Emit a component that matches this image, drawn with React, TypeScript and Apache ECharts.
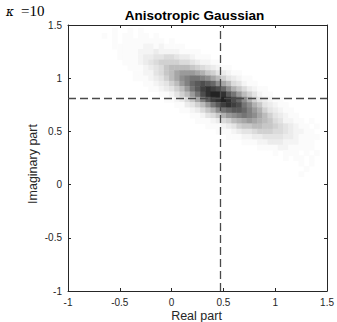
import React, { useEffect, useRef } from "react";
import * as echarts from "echarts";

// ---- axis ticks ----
const xTicks = [-1, -0.5, 0, 0.5, 1, 1.5];
const yTicks = [-1, -0.5, 0, 0.5, 1, 1.5];

// ---- texts ----
const titleText = "Anisotropic Gaussian";
const xName = "Real part";
const yName = "Imaginary part";
const kappaSymbol = "κ";
const kappaValue = "=10";

// ---- mean (dashed cross) ----
const meanReal = 0.475;
const meanImag = 0.815;

// ---- 2-D histogram: bin centres x = -0.70 .. 1.45 (step 0.05), counts 0..20 ----
const binX0 = -0.7;
const binStep = 0.05;
const rowYs = [1.45, 1.4, 1.35, 1.3, 1.25, 1.2, 1.15, 1.1, 1.05, 1.0, 0.95, 0.9, 0.85, 0.8, 0.75, 0.7, 0.65, 0.6, 0.55, 0.5, 0.45, 0.4, 0.35, 0.3, 0.25, 0.2, 0.15, 0.1];

const r145 = [0,0,0,1,0,0,1,0,1,0, 0,0,0,0,0,0,0,0,0,0, 0,0,0,0,0,0,0,0,0,0, 0,0,0,0,0,0,0,0,0,0, 0,0,0,0];
const r140 = [0,1,0,1,0,1,1,0,1,1, 0,1,0,0,0,0,0,0,0,0, 0,0,0,0,0,0,0,0,0,0, 0,0,0,0,0,0,0,0,0,0, 0,0,0,0];
const r135 = [0,0,0,1,0,1,1,1,1,1, 1,1,1,0,1,0,0,0,0,0, 0,0,0,0,0,0,0,0,0,0, 0,0,0,0,0,0,0,0,0,0, 0,0,0,0];
const r130 = [0,0,0,1,1,1,1,1,1,2, 2,1,2,1,1,1,1,0,0,0, 0,0,0,0,0,0,0,0,0,0, 0,0,0,0,0,0,0,0,0,0, 0,0,0,0];
const r125 = [0,0,0,0,1,1,1,1,2,2, 2,3,2,2,2,2,1,1,1,1, 0,0,0,0,0,0,0,0,0,0, 0,0,0,0,0,0,0,0,0,0, 0,0,0,0];
const r120 = [0,0,0,0,1,1,1,1,2,3, 3,4,4,5,5,4,3,3,2,1, 1,1,0,0,0,0,0,0,0,0, 0,0,0,0,0,0,0,0,0,0, 0,0,0,0];
const r115 = [0,0,0,0,0,1,1,1,2,3, 4,5,6,6,6,6,5,5,4,3, 2,2,1,1,0,0,0,0,0,0, 0,0,0,0,0,0,0,0,0,0, 0,0,0,0];
const r110 = [0,0,0,0,0,0,1,1,1,2, 3,4,5,7,8,8,8,8,7,6, 5,4,3,2,1,1,0,0,0,0, 0,0,0,0,0,0,0,0,0,0, 0,0,0,0];
const r105 = [0,0,0,0,0,0,0,1,1,2, 2,4,5,7,8,10,11,11,11,10, 9,7,6,4,3,2,1,1,0,0, 0,0,0,0,0,0,0,0,0,0, 0,0,0,0];
const r100 = [0,0,0,0,0,0,0,1,1,1, 2,3,4,6,8,10,12,13,14,14, 13,12,10,8,6,4,3,2,1,1, 0,0,0,0,0,0,0,0,0,0, 0,0,0,0];
const r095 = [0,0,0,0,0,0,0,0,0,1, 1,2,3,4,6,8,11,13,15,16, 17,16,15,12,10,8,5,4,2,1, 1,0,0,0,0,0,0,0,0,0, 0,0,0,0];
const r090 = [0,0,0,0,0,0,0,0,0,0, 1,1,2,3,4,6,8,11,14,16, 18,19,18,17,15,12,9,7,5,3, 2,1,1,0,0,0,0,0,0,0, 0,0,0,0];
const r085 = [0,0,0,0,0,0,0,0,0,0, 0,0,1,1,2,4,6,8,11,14, 17,19,20,20,19,16,14,11,8,6, 4,2,1,1,0,0,0,0,0,0, 0,0,0,0];
const r080 = [0,0,0,0,0,0,0,0,0,0, 0,0,0,1,1,2,3,5,7,10, 13,16,18,19,20,19,17,15,12,9, 6,4,3,2,1,1,0,0,0,0, 0,0,0,0];
const r075 = [0,0,0,0,0,0,0,0,0,0, 0,0,0,0,0,1,1,3,4,6, 8,11,14,16,18,19,18,17,14,12, 9,7,4,3,2,1,1,0,0,0, 0,0,0,0];
const r070 = [0,0,0,0,0,0,0,0,0,0, 0,0,0,0,0,0,1,1,2,3, 5,7,9,12,14,15,16,16,15,13, 11,9,6,4,3,2,1,1,0,0, 0,0,0,0];
const r065 = [0,0,0,0,0,0,0,0,0,0, 0,0,0,0,0,0,0,0,1,1, 2,4,5,7,9,11,12,13,14,13, 12,10,8,6,4,3,2,1,1,0, 0,0,0,0];
const r060 = [0,0,0,0,0,0,0,0,0,0, 0,0,0,0,0,0,0,0,0,1, 1,1,2,3,5,6,8,9,10,11, 10,9,8,7,5,4,2,2,1,1, 0,1,0,0];
const r055 = [0,0,0,0,0,0,0,0,0,0, 0,0,0,0,0,0,0,0,0,0, 0,1,1,1,2,3,4,6,7,7, 8,8,7,7,6,5,4,3,2,1, 1,0,1,0];
const r050 = [0,0,0,0,0,0,0,0,0,0, 0,0,0,0,0,0,0,0,0,0, 0,0,0,1,1,1,2,3,4,4, 5,6,6,6,5,5,4,3,2,2, 1,1,0,0];
const r045 = [0,0,0,0,0,0,0,0,0,0, 0,0,0,0,0,0,0,0,0,0, 0,0,0,0,0,1,1,1,2,2, 3,3,4,4,4,4,3,3,2,1, 1,1,1,0];
const r040 = [0,0,0,0,0,0,0,0,0,0, 0,0,0,0,0,0,0,0,0,0, 0,0,0,0,0,0,0,0,1,1, 1,2,2,3,3,3,2,2,2,1, 1,1,0,0];
const r035 = [0,0,0,0,0,0,0,0,0,0, 0,0,0,0,0,0,0,0,0,0, 0,0,0,0,0,0,0,0,0,0, 0,1,1,1,1,2,2,1,1,1, 1,1,0,0];
const r030 = [0,0,0,0,0,0,0,0,0,0, 0,0,0,0,0,0,0,0,0,0, 0,0,0,0,0,0,0,0,0,0, 0,0,0,0,1,0,1,1,1,0, 1,0,1,0];
const r025 = [0,0,0,0,0,0,0,0,0,0, 0,0,0,0,0,0,0,0,0,0, 0,0,0,0,0,0,0,0,0,0, 0,0,0,0,0,0,1,0,1,1, 0,1,0,0];
const r020 = [0,0,0,0,0,0,0,0,0,0, 0,0,0,0,0,0,0,0,0,0, 0,0,0,0,0,0,0,0,0,0, 0,0,0,0,0,0,0,0,0,1, 0,1,0,0];
const r015 = [0,0,0,0,0,0,0,0,0,0, 0,0,0,0,0,0,0,0,0,0, 0,0,0,0,0,0,0,0,0,0, 0,0,0,0,0,0,0,0,0,0, 1,0,0,0];
const r010 = [0,0,0,0,0,0,0,0,0,0, 0,0,0,0,0,0,0,0,0,0, 0,0,0,0,0,0,0,0,0,0, 0,0,0,0,0,0,0,0,0,1, 0,0,0,0];

const rows = [r145, r140, r135, r130, r125, r120, r115, r110, r105, r100, r095, r090, r085, r080, r075, r070, r065, r060, r055, r050, r045, r040, r035, r030, r025, r020, r015, r010];
const maxCount = 20;

// build [x, y, count] triples for the custom series
const cells: number[][] = [];
rows.forEach((row, j) => {
  row.forEach((v, i) => {
    if (v > 0) cells.push([+(binX0 + i * binStep).toFixed(3), rowYs[j], v]);
  });
});

const axisColor = "#262626";
const sans = "Liberation Sans";

function grayOf(v: number) {
  const t = Math.pow(Math.min(1, v / maxCount), 1.3);
  const g = Math.round(255 - 220 * t);
  return `rgb(${g},${g},${g})`;
}

function buildOption() {
  const half = binStep / 2;
  const commonX = {
    type: "value" as const,
    min: -1,
    max: 1.5,
    interval: 0.5,
    splitLine: { show: false },
    axisLine: { show: true, onZero: false, lineStyle: { color: axisColor, width: 1 } },
    axisTick: { show: true, inside: true, length: 3, lineStyle: { color: axisColor, width: 1 } },
  };
  return {
    animation: false,
    backgroundColor: "#ffffff",
    grid: { left: 68, top: 25, width: 263, height: 266, containLabel: false },
    xAxis: [
      {
        ...commonX,
        position: "bottom",
        axisLabel: {
          show: true, margin: 6, color: axisColor, fontSize: 10, fontFamily: sans,
          showMinLabel: true, showMaxLabel: true,
          formatter: (v: number) => (xTicks.includes(v) ? String(v) : ""),
        },
      },
      { ...commonX, position: "top", axisLabel: { show: false } },
    ],
    yAxis: [
      {
        ...commonX,
        position: "left",
        axisLabel: {
          show: true, margin: 6, color: axisColor, fontSize: 10, fontFamily: sans,
          showMinLabel: true, showMaxLabel: true,
          formatter: (v: number) => (yTicks.includes(v) ? String(v) : ""),
        },
      },
      { ...commonX, position: "right", axisLabel: { show: false } },
    ],
    series: [
      {
        type: "custom",
        xAxisIndex: 0,
        yAxisIndex: 0,
        silent: true,
        z: 1,
        data: cells,
        renderItem: (params: any, api: any) => {
          const x = api.value(0);
          const y = api.value(1);
          const v = api.value(2);
          const p0 = api.coord([x - half, y + half]);
          const p1 = api.coord([x + half, y - half]);
          return {
            type: "rect",
            shape: { x: p0[0], y: p0[1], width: p1[0] - p0[0] + 0.5, height: p1[1] - p0[1] + 0.5 },
            style: { fill: grayOf(v), stroke: null },
          };
        },
      },
      {
        type: "line",
        xAxisIndex: 0,
        yAxisIndex: 0,
        data: [],
        z: 5,
        silent: true,
        markLine: {
          silent: true,
          symbol: ["none", "none"],
          label: { show: false },
          animation: false,
          lineStyle: { color: "#4a4a4a", width: 1.3, type: [8, 4] },
          data: [{ xAxis: meanReal }, { yAxis: meanImag }],
        },
      },
    ],
    graphic: [
      {
        type: "text",
        x: 194.5,
        y: 15,
        style: { text: titleText, fontFamily: sans, fontWeight: "bold", fontSize: 13.5, fill: "#000", align: "center", verticalAlign: "middle" },
      },
      {
        type: "text",
        x: 196.5,
        y: 316,
        style: { text: xName, fontFamily: sans, fontSize: 12.5, fill: axisColor, align: "center", verticalAlign: "middle" },
      },
      {
        type: "text",
        x: 33,
        y: 164,
        rotation: Math.PI / 2,
        style: { text: yName, fontFamily: sans, fontSize: 12.5, fill: axisColor, align: "center", verticalAlign: "middle" },
      },
      {
        type: "text",
        x: 6,
        y: 11.5,
        style: { text: kappaSymbol, fontFamily: "DejaVu Serif", fontStyle: "italic", fontWeight: "normal", fontSize: 12, fill: "#000", align: "left", verticalAlign: "middle" },
      },
      {
        type: "text",
        x: 21,
        y: 11,
        style: { text: kappaValue, fontFamily: "Liberation Serif", fontWeight: "normal", fontSize: 15, fill: "#000", align: "left", verticalAlign: "middle" },
      },
    ],
  };
}

export default function App() {
  const ref = useRef<HTMLDivElement>(null);
  useEffect(() => {
    if (!ref.current) return;
    const chart = echarts.init(ref.current, null, { renderer: "svg" });
    chart.setOption(buildOption() as any);
    return () => chart.dispose();
  }, []);
  return (
    <div
      ref={ref}
      style={{ position: "fixed", left: 0, top: 0, width: 337, height: 322, background: "#fff" }}
    />
  );
}
